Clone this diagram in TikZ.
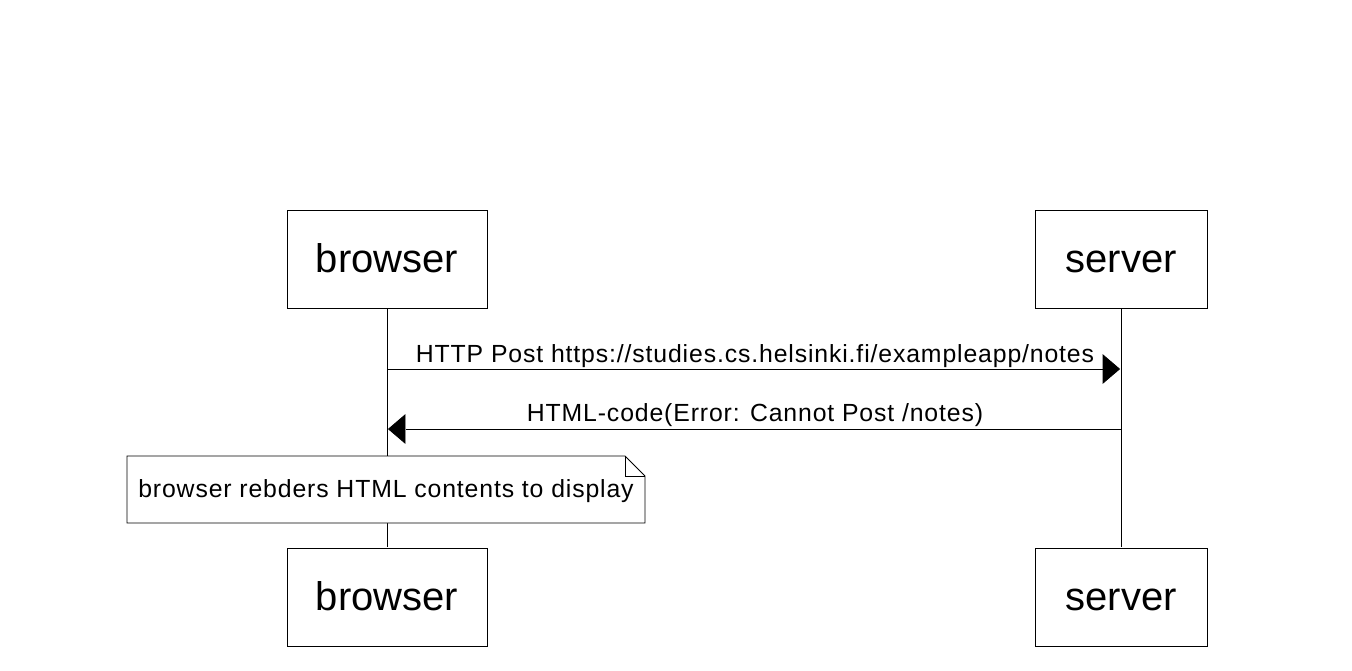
\documentclass[tikz,border=0pt]{standalone}
\usepackage{fontspec}
\setmainfont{Liberation Sans}
\newfontfamily\msgfont[LetterSpace=3.5]{Liberation Sans}
\usetikzlibrary{arrows.meta}
\begin{document}
\begin{tikzpicture}[x=0.5pt,y=-0.5pt]
\tikzset{ >={Triangle[length=9.5pt,width=16pt]}, line width=1pt,
  actor/.style={draw, minimum width=100pt, minimum height=49pt, inner sep=0pt,
    text height=15pt, text depth=2pt, font=\fontsize{20}{24}\selectfont},
  msg/.style={inner sep=0pt, anchor=base, font=\msgfont\fontsize{12.4}{15}\selectfont},
}
\useasboundingbox (0,0) rectangle (1352,670);

\node [actor] (BT) at (387,259) {browser};
\node [actor, minimum width=86pt] (ST) at (1121,259) {server};
\node [actor] (BB) at (387,597) {browser};
\node [actor, minimum width=86pt] (SB) at (1121,597) {server};

% lifelines
\draw (BT) -- (BB);
\draw (ST) -- (SB);

\coordinate (B1) at (387,369);
\coordinate (S1) at (1121,369);
\coordinate (B2) at (387,429);
\coordinate (S2) at (1121,429);

\draw [->] (B1) -- (S1);
\draw [->] (S2) -- (B2);

\node [msg] (M1) at (755,362) {HTTP Post https://studies.cs.helsinki.fi/exampleapp/notes};
\node [msg] (M2) at (755,421) {HTML-code(Error: Cannot Post /notes)};

% note
\node [minimum width=258pt, minimum height=32.5pt, inner sep=0pt] (N) at (386,489.5) {};
\draw [fill=white] (N.north west) -- ([xshift=-10pt]N.north east) -- ([yshift=-10pt]N.north east)
  -- (N.south east) -- (N.south west) -- cycle;
\draw ([xshift=-10pt]N.north east) -- ([xshift=-10pt,yshift=-10pt]N.north east) -- ([yshift=-10pt]N.north east);
\node [msg] (NT) at (386,497) {browser rebders HTML contents to display};

\end{tikzpicture}
\end{document}
